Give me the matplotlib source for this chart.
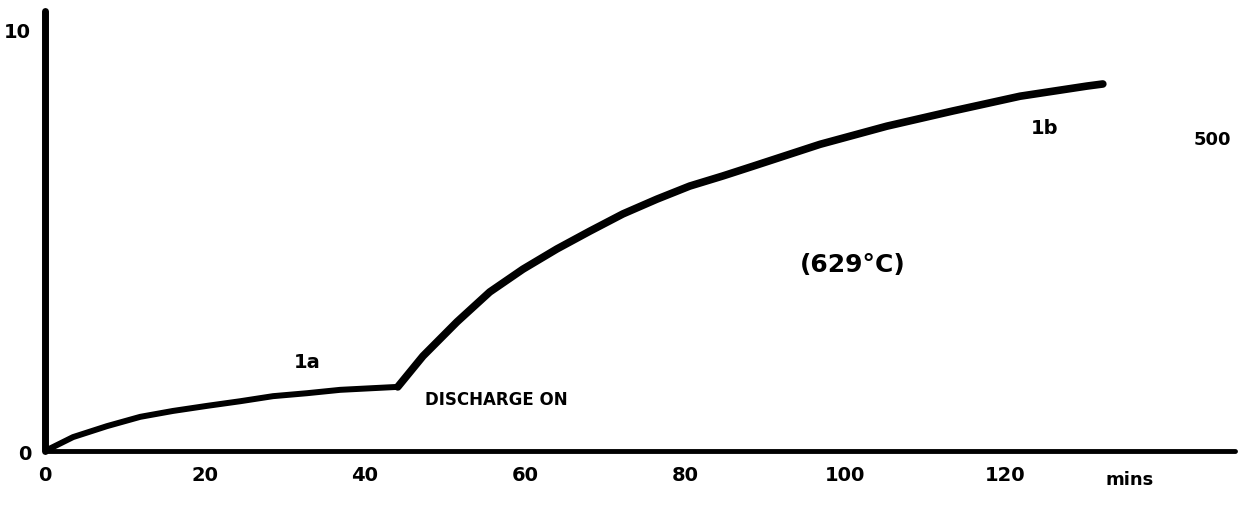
import matplotlib.pyplot as plt

# curve (minutes vs. arbitrary units)
# before the discharge is switched on
time_pre = [0, 3.5, 7.75, 11.9, 16.0, 20.25, 24.4, 28.5, 32.75, 36.9, 41.0,
            44.1]
signal_pre = [0, 0.33, 0.59, 0.81, 0.95, 1.07, 1.18, 1.30, 1.37, 1.45, 1.49,
              1.52]
# after the discharge is switched on
time_post = [44.1, 47.25, 51.5, 55.6, 59.75, 64.0, 68.1, 72.25, 76.5, 80.6,
             84.75, 88.5, 96.9, 105.25, 113.5, 121.9, 130.25, 132.25]
signal_post = [1.52, 2.25, 3.06, 3.77, 4.31, 4.79, 5.21, 5.62, 5.97, 6.28,
               6.52, 6.75, 7.27, 7.70, 8.06, 8.41, 8.65, 8.70]

x_ticks = [0, 20, 40, 60, 80, 100, 120]
x_tick_labels = ["0", "20", "40", "60", "80", "100", "120"]
y_ticks = [0, 10]
y_tick_labels = ["0", "10"]

fig = plt.figure(figsize=(12.55, 5.06), dpi=100)
ax = fig.add_axes([0.0359, 0.1067, 0.948, 0.8696])

ax.plot(time_pre, signal_pre, color="black", linewidth=4.3,
        solid_capstyle="round", solid_joinstyle="round")
ax.plot(time_post, signal_post, color="black", linewidth=5.5,
        solid_capstyle="round", solid_joinstyle="round")

ax.set_xlim(0, 148.75)
ax.set_ylim(0, 10.43)

for side in ["top", "right"]:
    ax.spines[side].set_visible(False)
ax.spines["left"].set_linewidth(5)
ax.spines["bottom"].set_linewidth(3.5)
ax.spines["left"].set_capstyle("round")
ax.spines["bottom"].set_capstyle("round")

ax.set_xticks(x_ticks)
ax.set_xticklabels(x_tick_labels)
ax.set_yticks(y_ticks)
ax.set_yticklabels(y_tick_labels)
ax.tick_params(length=0, labelsize=14, pad=10)
for lbl in ax.get_xticklabels() + ax.get_yticklabels():
    lbl.set_fontweight("heavy")

txt = dict(fontsize=14, fontweight="heavy", color="black")
ax.text(32.8, 2.13, "1a", ha="center", va="center", **txt)
ax.text(47.5, 1.23, "DISCHARGE ON", ha="left", va="center", fontsize=12,
        fontweight="heavy")
ax.text(101, 4.43, "(629°C)", ha="center", va="center", fontsize=18,
        fontweight="heavy")
ax.text(125, 7.68, "1b", ha="center", va="center", **txt)
ax.text(146, 7.4, "500", ha="center", va="center", fontsize=13,
        fontweight="heavy")
ax.text(135.6, -0.66, "mins", ha="center", va="center", fontsize=13,
        fontweight="heavy", clip_on=False)

fig.savefig("out.png", dpi=100)
